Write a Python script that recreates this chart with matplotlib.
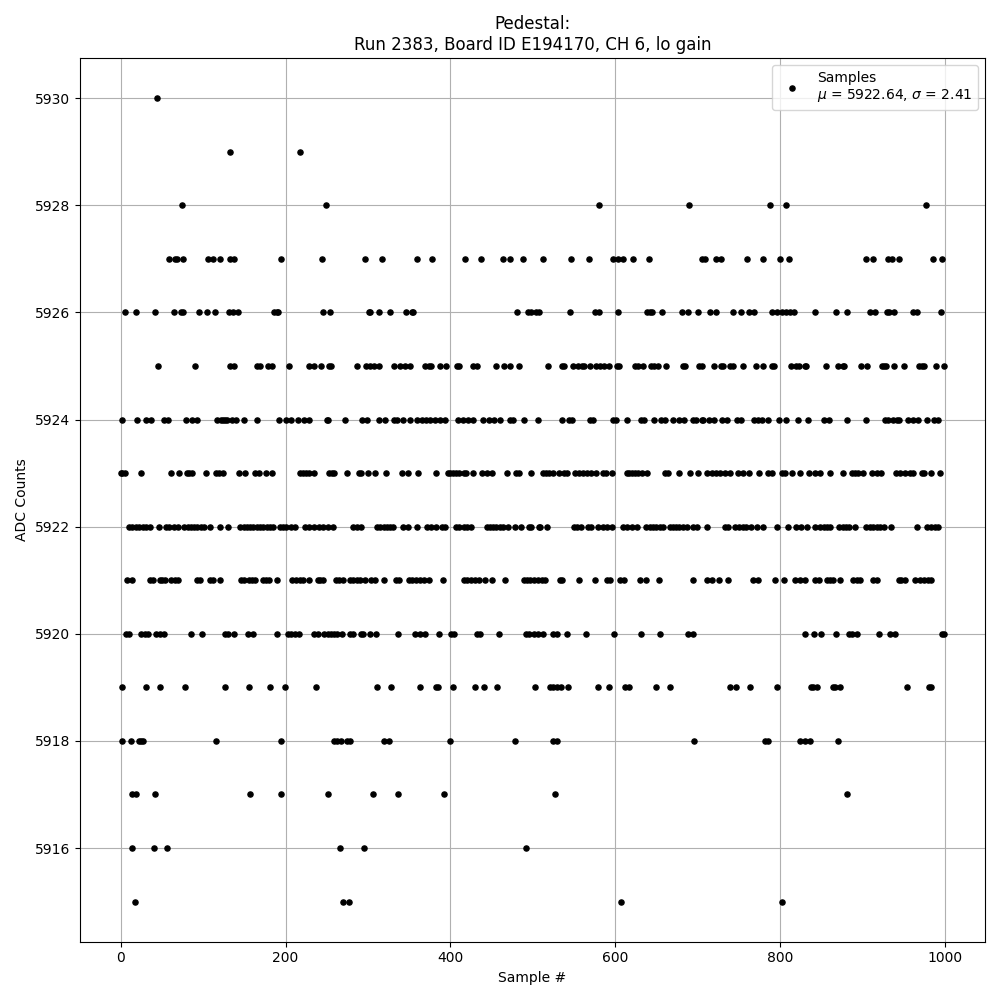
import numpy as np
import matplotlib
matplotlib.use("Agg")
import matplotlib.pyplot as plt

# sample indices, grouped by ADC value
adc_5930 = [44]
adc_5929 = [132, 217]
adc_5928 = [74, 249, 581, 690, 788, 808, 977]
adc_5927 = [58, 66, 68, 75, 106, 112, 120, 132, 137, 194, 244, 296, 317, 359, 378,
            418, 437, 464, 472, 488, 513, 547, 568, 598, 604, 610, 622, 641, 705, 709,
            722, 728, 760, 780, 800, 811, 905, 913, 931, 936, 945, 986, 997]
adc_5926 = [5, 19, 41, 65, 73, 76, 95, 105, 114, 131, 136, 142, 186, 189, 191, 245,
            254, 301, 303, 314, 327, 346, 353, 355, 481, 494, 498, 504, 507, 545, 575,
            581, 604, 639, 642, 645, 657, 681, 689, 701, 715, 722, 743, 753, 762, 768,
            791, 796, 802, 808, 812, 817, 842, 868, 881, 909, 916, 930, 933, 939, 961,
            967, 996]
adc_5925 = [45, 90, 133, 138, 165, 169, 179, 184, 204, 228, 235, 243, 253, 255, 287,
            298, 303, 307, 313, 332, 339, 345, 351, 369, 374, 377, 387, 395, 408, 410,
            427, 432, 455, 465, 472, 483, 519, 535, 538, 549, 555, 560, 562, 570, 577,
            582, 587, 593, 602, 605, 624, 628, 634, 643, 647, 652, 662, 682, 685, 702,
            705, 720, 728, 731, 740, 743, 755, 771, 780, 791, 793, 813, 820, 823, 830,
            832, 856, 870, 876, 878, 898, 906, 924, 926, 929, 938, 951, 969, 972, 975,
            990, 999]
adc_5924 = [2, 20, 31, 37, 52, 57, 79, 86, 93, 117, 122, 124, 127, 129, 135, 140, 149,
            165, 192, 201, 207, 215, 222, 228, 250, 252, 272, 293, 299, 313, 321, 331,
            335, 342, 351, 359, 365, 370, 375, 381, 388, 394, 409, 415, 421, 427, 440,
            447, 453, 460, 473, 476, 490, 506, 536, 544, 548, 570, 573, 598, 601, 615,
            631, 635, 647, 656, 660, 670, 677, 684, 694, 698, 705, 707, 714, 720, 730,
            736, 748, 753, 769, 774, 778, 786, 799, 808, 822, 834, 853, 860, 882, 904,
            927, 931, 937, 942, 945, 956, 962, 968, 979, 987, 992]
adc_5923 = [0, 1, 5, 24, 61, 71, 80, 83, 87, 103, 115, 119, 124, 143, 151, 163, 168,
            176, 184, 218, 221, 225, 229, 235, 253, 256, 259, 274, 289, 292, 300, 308,
            322, 341, 348, 361, 382, 397, 400, 403, 407, 411, 416, 419, 428, 438, 444,
            451, 469, 480, 483, 498, 513, 516, 520, 524, 532, 538, 542, 551, 556, 561,
            566, 571, 577, 585, 589, 596, 614, 617, 620, 624, 628, 633, 639, 661, 664,
            677, 691, 701, 711, 717, 723, 727, 733, 740, 749, 755, 762, 775, 786, 790,
            803, 806, 815, 825, 835, 843, 849, 861, 877, 887, 891, 895, 901, 912, 918,
            923, 941, 946, 952, 958, 962, 972, 975, 984, 994]
adc_5922 = [10, 14, 18, 22, 27, 31, 35, 46, 55, 59, 64, 69, 77, 81, 85, 89, 93, 97,
            101, 108, 121, 130, 145, 149, 153, 157, 161, 165, 169, 173, 177, 181, 185,
            193, 197, 201, 206, 212, 223, 229, 234, 241, 246, 251, 257, 282, 287, 291,
            311, 315, 319, 323, 327, 330, 342, 348, 359, 372, 377, 383, 390, 394, 407,
            411, 416, 420, 425, 444, 448, 452, 456, 460, 464, 470, 478, 486, 496, 498,
            507, 509, 517, 550, 554, 558, 567, 571, 579, 585, 590, 596, 610, 614, 621,
            627, 638, 642, 646, 650, 654, 658, 666, 670, 674, 678, 682, 687, 695, 699,
            712, 733, 737, 745, 750, 755, 759, 765, 772, 780, 797, 810, 819, 826, 833,
            843, 849, 853, 857, 861, 872, 876, 880, 884, 891, 905, 909, 913, 918, 922,
            926, 935, 966, 978, 983, 988, 992]
adc_5921 = [7, 13, 35, 39, 47, 50, 54, 61, 66, 69, 92, 96, 108, 112, 121, 146, 150,
            155, 159, 163, 172, 176, 180, 189, 208, 213, 217, 221, 228, 239, 242, 245,
            261, 265, 270, 278, 282, 287, 290, 296, 304, 309, 319, 334, 338, 350, 354,
            358, 363, 368, 374, 391, 416, 420, 425, 430, 435, 442, 450, 466, 489, 493,
            497, 502, 506, 511, 515, 533, 536, 556, 575, 590, 594, 606, 611, 630, 637,
            653, 694, 712, 717, 726, 737, 767, 774, 794, 805, 818, 824, 830, 843, 847,
            857, 861, 865, 873, 889, 893, 897, 913, 918, 944, 947, 952, 964, 970, 975,
            980, 984]
adc_5920 = [6, 10, 25, 29, 33, 43, 47, 52, 85, 99, 127, 130, 137, 154, 160, 189, 203,
            207, 211, 216, 234, 239, 247, 251, 255, 259, 263, 268, 278, 282, 291, 294,
            303, 310, 336, 357, 363, 369, 386, 401, 404, 432, 436, 459, 492, 496, 502,
            506, 512, 525, 529, 541, 565, 599, 632, 654, 689, 695, 830, 841, 850, 868,
            884, 888, 894, 920, 934, 940, 997, 999]
adc_5919 = [1, 30, 48, 78, 126, 155, 181, 199, 237, 311, 328, 363, 383, 385, 403, 430,
            441, 457, 503, 521, 525, 530, 534, 543, 579, 592, 612, 617, 650, 667, 740,
            747, 764, 796, 838, 840, 845, 865, 867, 873, 954, 981, 983]
adc_5918 = [1, 12, 22, 25, 27, 115, 195, 259, 263, 267, 274, 278, 319, 325, 400, 479,
            524, 530, 696, 782, 785, 825, 831, 836, 870]
adc_5917 = [14, 18, 41, 157, 194, 251, 306, 336, 392, 527, 882]
adc_5916 = [14, 40, 56, 266, 295, 492]
adc_5915 = [17, 270, 277, 607, 803]

levels = [5930, 5929, 5928, 5927, 5926, 5925, 5924, 5923, 5922, 5921, 5920,
          5919, 5918, 5917, 5916, 5915]
groups = [adc_5930, adc_5929, adc_5928, adc_5927, adc_5926, adc_5925, adc_5924,
          adc_5923, adc_5922, adc_5921, adc_5920, adc_5919, adc_5918, adc_5917,
          adc_5916, adc_5915]

n_samples = 1000
mu_text = "5922.64"
sigma_text = "2.41"

# flatten into one (sample, value) series, ordered by sample number
xs = np.concatenate([np.array(g) for g in groups])
ys = np.concatenate([np.full(len(g), lv) for g, lv in zip(groups, levels)])
order = np.argsort(xs, kind="stable")
xs, ys = xs[order], ys[order]

fig, ax = plt.subplots(figsize=(10, 10), dpi=100)
ax.plot(xs, ys, linestyle="none", marker="o", markersize=3.7, color="black",
        label=f"Samples\n$\\mu$ = {mu_text}, $\\sigma$ = {sigma_text}")
ax.set_xlim(-0.05 * (n_samples - 1), (n_samples - 1) * 1.05)
ax.set_ylim(5915 - 0.75, 5930 + 0.75)
ax.set_xlabel("Sample #")
ax.set_ylabel("ADC Counts")
ax.set_title("Pedestal:\nRun 2383, Board ID E194170, CH 6, lo gain")
ax.grid(True)
ax.legend(loc="upper right")
fig.tight_layout()
fig.savefig("out.png")
